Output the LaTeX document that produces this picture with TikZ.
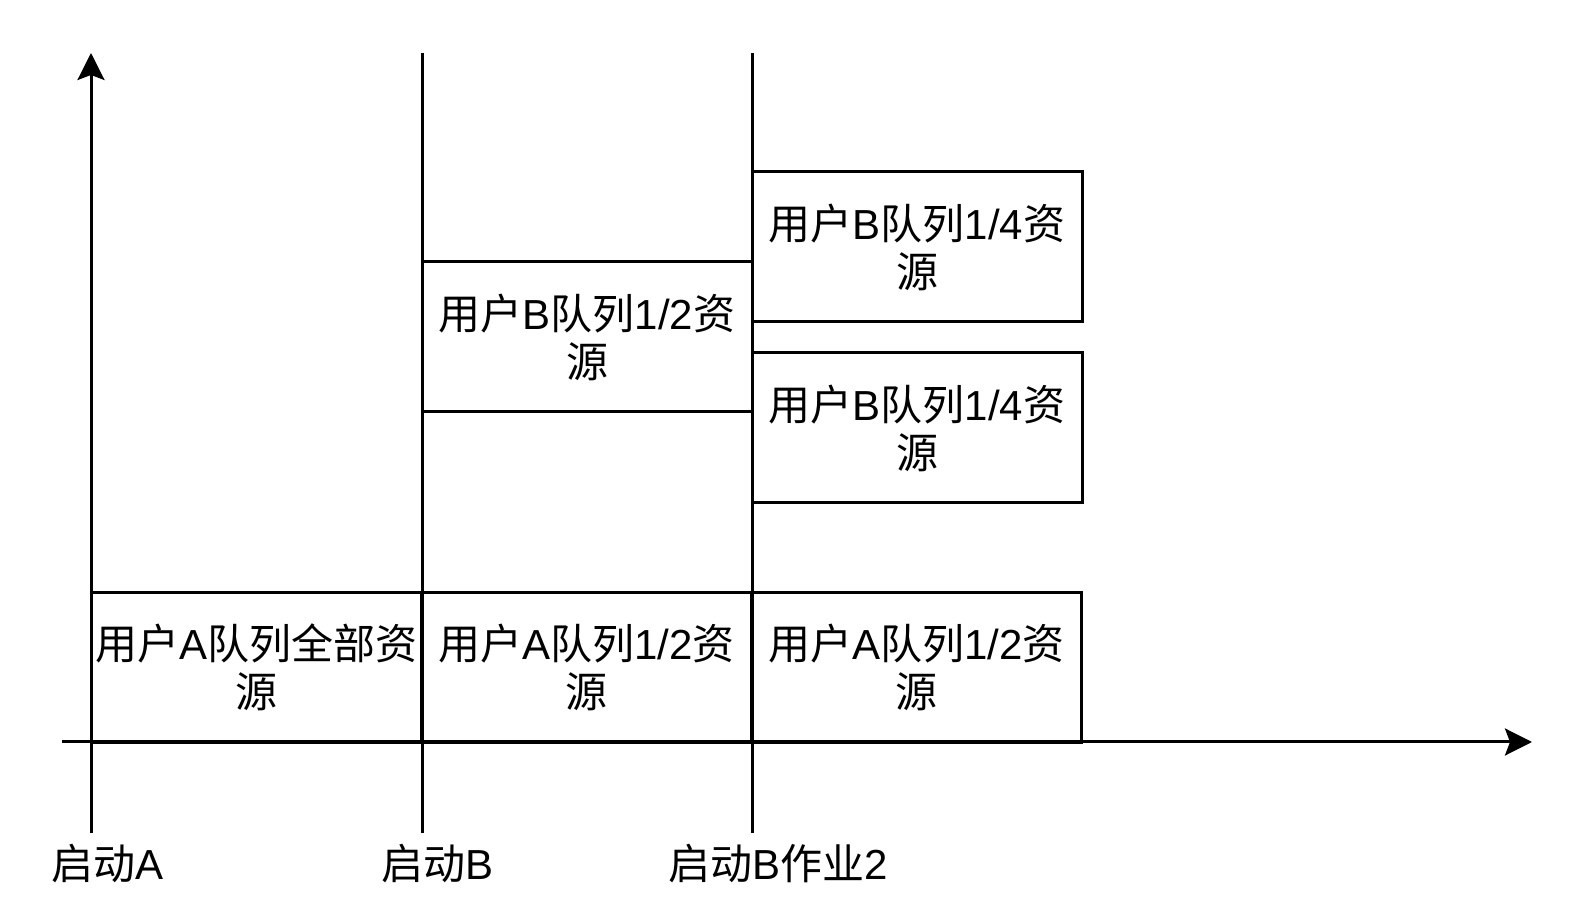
\documentclass[tikz,border=0pt]{standalone}
\usepackage{fontspec}
\setmainfont{Liberation Sans}
\newfontfamily\cjk{Noto Sans CJK SC}
\newcommand{\zh}[1]{{\cjk #1}}
\usepackage{tikz}
\usetikzlibrary{arrows.meta}
\usetikzlibrary{positioning}

\tikzset{
  resbox/.style={draw, line width=1.5pt, rectangle, inner sep=0pt, outer sep=0pt,
    minimum width=165pt, minimum height=75pt, align=center,
    font=\fontsize{21}{24}\selectfont},
  startlbl/.style={anchor=west, inner sep=0pt, font=\fontsize{21}{24}\selectfont},
  axisline/.style={line width=1.5pt, -{Stealth[length=13.5pt, width=13.5pt, inset=2.5pt]}},
  stepline/.style={line width=1.5pt}
}

\begin{document}
\begin{tikzpicture}[x=0.5pt,y=-0.5pt]
\useasboundingbox (0,0) rectangle (1587,924);

\coordinate (yBot) at (91,833);
\coordinate (yTop) at (91,53);
\coordinate (xLeft) at (62,742);
\coordinate (xRight) at (1532,742);
\coordinate (bTop) at (422,53);
\coordinate (bBot) at (422,833);
\coordinate (cTop) at (752,53);
\coordinate (cBot) at (752,833);

\draw[stepline] (bTop) -- (bBot) ; % start of B
\draw[stepline] (cTop) -- (cBot) ; % start of B job 2

\node[resbox] (aAll) at (256.5,667.5) {\zh{用户}A\zh{队列全部资}\\\zh{源}};
\node[resbox, right=0pt of aAll] (aHalf) {\zh{用户}A\zh{队列}1/2\zh{资}\\\zh{源}};
\node[resbox, right=0pt of aHalf] (aHalfTwo) {\zh{用户}A\zh{队列}1/2\zh{资}\\\zh{源}};

\node[resbox] (bHalf) at (587,337) {\zh{用户}B\zh{队列}1/2\zh{资}\\\zh{源}};
\node[resbox] (bQuarter) at (917,247) {\zh{用户}B\zh{队列}1/4\zh{资}\\\zh{源}};
\node[resbox] (bQuarterTwo) at (917,428) {\zh{用户}B\zh{队列}1/4\zh{资}\\\zh{源}};

\draw[axisline] (yBot) -- (yTop) ; % y axis
\draw[axisline] (xLeft) -- (xRight) ; % x axis

\node[startlbl] (startA) at (51,864) {\zh{启动}A};
\node[startlbl] (startB) at (381,864) {\zh{启动}B};
\node[startlbl] (startBtwo) at (668,864) {\zh{启动}B\zh{作业}2};
\end{tikzpicture}
\end{document}
